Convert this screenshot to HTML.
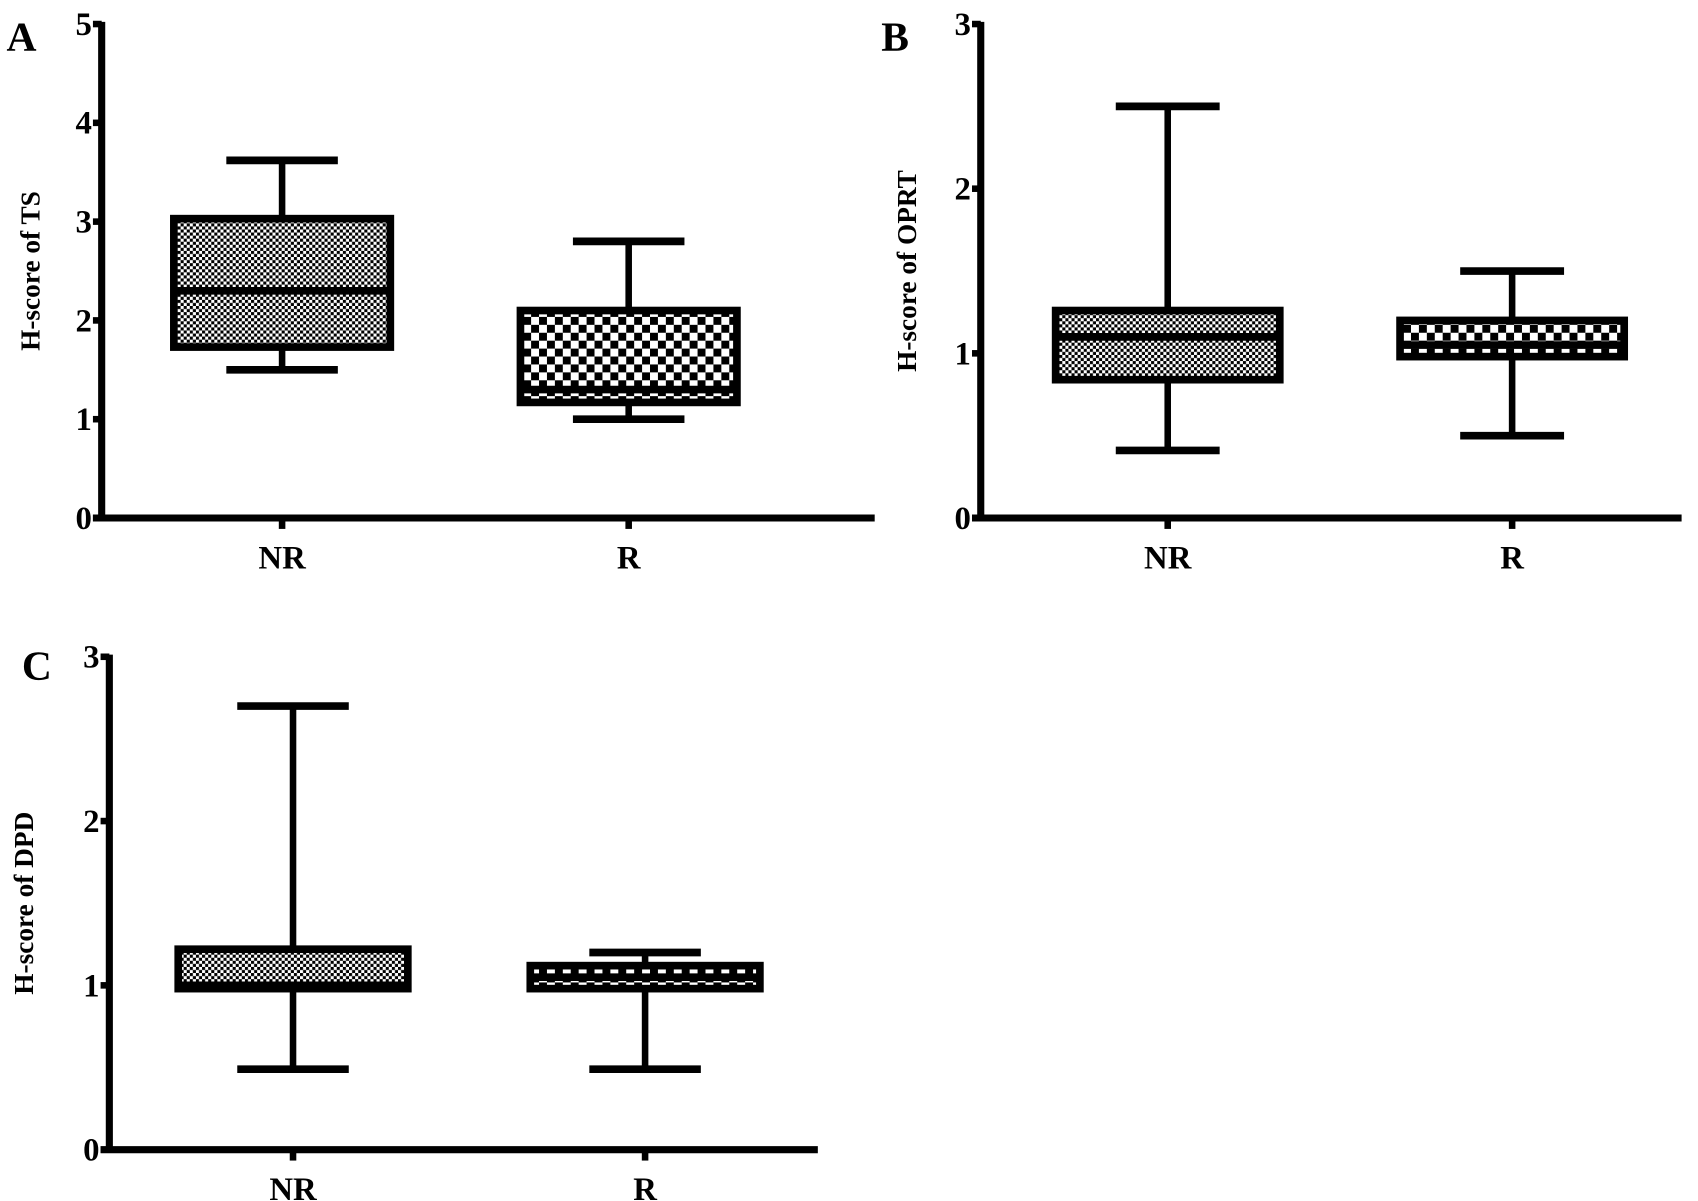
<!DOCTYPE html>
<html><head><meta charset="utf-8"><style>
html,body{margin:0;padding:0;background:#fff;}
svg{display:block;}
text{font-family:"Liberation Serif",serif;font-weight:bold;fill:#000;}
</style></head><body>
<svg id="fig" width="1698" height="1201" viewBox="0 0 1553 1099" preserveAspectRatio="none" xmlns="http://www.w3.org/2000/svg">
<defs>
<pattern id="fine" patternUnits="userSpaceOnUse" width="5.6" height="5.6">
<rect width="5.6" height="5.6" fill="#fff"/><rect width="2.8" height="2.8" fill="#000"/><rect x="2.8" y="2.8" width="2.8" height="2.8" fill="#000"/>
</pattern>
<pattern id="coarse" patternUnits="userSpaceOnUse" width="14.5" height="14.5">
<rect width="14.5" height="14.5" fill="#fff"/><rect width="7.25" height="7.25" fill="#000"/><rect x="7.25" y="7.25" width="7.25" height="7.25" fill="#000"/>
</pattern>
</defs>
</svg>
<script>
// Panel A: TS
const categories = ["NR", "R"];
const tsMin = [1.5, 1.0];
const tsQ1 = [1.73, 1.17];
const tsMedian = [2.3, 1.3];
const tsQ3 = [3.03, 2.1];
const tsMax = [3.62, 2.8];
const tsTicks = ["0","1","2","3","4","5"];
// Panel B: OPRT
const oprtMin = [0.41, 0.5];
const oprtQ1 = [0.84, 0.98];
const oprtMedian = [1.1, 1.05];
const oprtQ3 = [1.26, 1.2];
const oprtMax = [2.5, 1.5];
const oprtTicks = ["0","1","2","3"];
// Panel C: DPD
const dpdMin = [0.49, 0.49];
const dpdQ1 = [0.98, 0.98];
const dpdMedian = [1.0, 1.05];
const dpdQ3 = [1.22, 1.12];
const dpdMax = [2.7, 1.2];
const dpdTicks = ["0","1","2","3"];

const svg = document.getElementById('fig');
const NS = 'http://www.w3.org/2000/svg';
function mk(tag, attrs, parent){
  const e = document.createElementNS(NS, tag);
  for (const k in attrs) e.setAttribute(k, attrs[k]);
  (parent||svg).appendChild(e);
  return e;
}

function panel(cfg){
  const g = mk('g', {});
  
  
  const ymax = cfg.ticks.length - 1;
  const Y = v => cfg.y0 - (v / ymax) * (cfg.y0 - cfg.yTop);
  const X = i => cfg.cx[i];
  const L = mk('text', {x: cfg.lx, y: cfg.ly, 'font-size': 38}, g);
  L.textContent = cfg.letter;
  
  
  const ya = mk('line', {x1: cfg.ax, y1: cfg.yTop - 2, x2: cfg.ax, y2: cfg.y0 + 3, stroke: '#000', 'stroke-width': 6.5}, g);
  
  
  const xa = mk('line', {x1: cfg.ax - 8, y1: cfg.y0, x2: cfg.xEnd, y2: cfg.y0, stroke: '#000', 'stroke-width': 6.5}, g);
  
  
  cfg.ticks.forEach((t, i) => {
    const y = Y(i);
    mk('line', {x1: cfg.ax - 8, y1: y, x2: cfg.ax, y2: y, stroke: '#000', 'stroke-width': 6}, g);
    const tl = mk('text', {x: cfg.ax - 9, y: y + 10, 'font-size': 30, 'text-anchor': 'end'}, g);
    tl.textContent = t;
    
    
  });
  const tx = cfg.titleX, ty = (cfg.y0 + cfg.yTop) / 2;
  const yt = mk('text', {x: tx, y: ty, 'font-size': 25, 'text-anchor': 'middle', transform: `rotate(-90 ${tx} ${ty})`}, g);
  yt.textContent = cfg.title;
  
  
  categories.forEach((c, i) => {
    const cx = X(i);
    mk('line', {x1: cx, y1: cfg.y0, x2: cx, y2: cfg.y0 + 10, stroke: '#000', 'stroke-width': 6}, g);
    const cl = mk('text', {x: cx, y: cfg.y0 + 46, 'font-size': 30, 'text-anchor': 'middle'}, g);
    cl.textContent = c;
    
    
    const bg = mk('g', {}, g);
    
    
    mk('line', {x1: cx, y1: Y(cfg.max[i]), x2: cx, y2: Y(cfg.q3[i]), stroke: '#000', 'stroke-width': 6}, bg);
    mk('line', {x1: cx, y1: Y(cfg.min[i]), x2: cx, y2: Y(cfg.q1[i]), stroke: '#000', 'stroke-width': 6}, bg);
    mk('line', {x1: cx - cfg.capW/2, y1: Y(cfg.max[i]), x2: cx + cfg.capW/2, y2: Y(cfg.max[i]), stroke: '#000', 'stroke-width': 7}, bg);
    mk('line', {x1: cx - cfg.capW/2, y1: Y(cfg.min[i]), x2: cx + cfg.capW/2, y2: Y(cfg.min[i]), stroke: '#000', 'stroke-width': 7}, bg);
    const hw = cfg.boxW/2;
    mk('rect', {x: cx - hw, y: Y(cfg.q3[i]), width: cfg.boxW, height: Y(cfg.q1[i]) - Y(cfg.q3[i]),
      fill: i === 0 ? 'url(#fine)' : 'url(#coarse)', stroke: '#000', 'stroke-width': 7}, bg);
    mk('line', {x1: cx - hw, y1: Y(cfg.med[i]), x2: cx + hw, y2: Y(cfg.med[i]), stroke: '#000', 'stroke-width': 7}, bg);
  });
}

panel({letter:'A', lx:6, ly:46, ax:93, yTop:22, y0:474, xEnd:800, cx:[258,575], boxW:198, capW:102, titleX:36,
  title:'H-score of TS', ticks:tsTicks, min:tsMin, q1:tsQ1, med:tsMedian, q3:tsQ3, max:tsMax});
panel({letter:'B', lx:806, ly:46, ax:897, yTop:22, y0:474, xEnd:1538, cx:[1068,1383], boxW:205, capW:95, titleX:838,
  title:'H-score of OPRT', ticks:oprtTicks, min:oprtMin, q1:oprtQ1, med:oprtMedian, q3:oprtQ3, max:oprtMax});
panel({letter:'C', lx:20, ly:622, ax:100, yTop:601, y0:1052, xEnd:748, cx:[268,590], boxW:210, capW:102, titleX:30,
  title:'H-score of DPD', ticks:dpdTicks, min:dpdMin, q1:dpdQ1, med:dpdMedian, q3:dpdQ3, max:dpdMax});
</script>
</body></html>
